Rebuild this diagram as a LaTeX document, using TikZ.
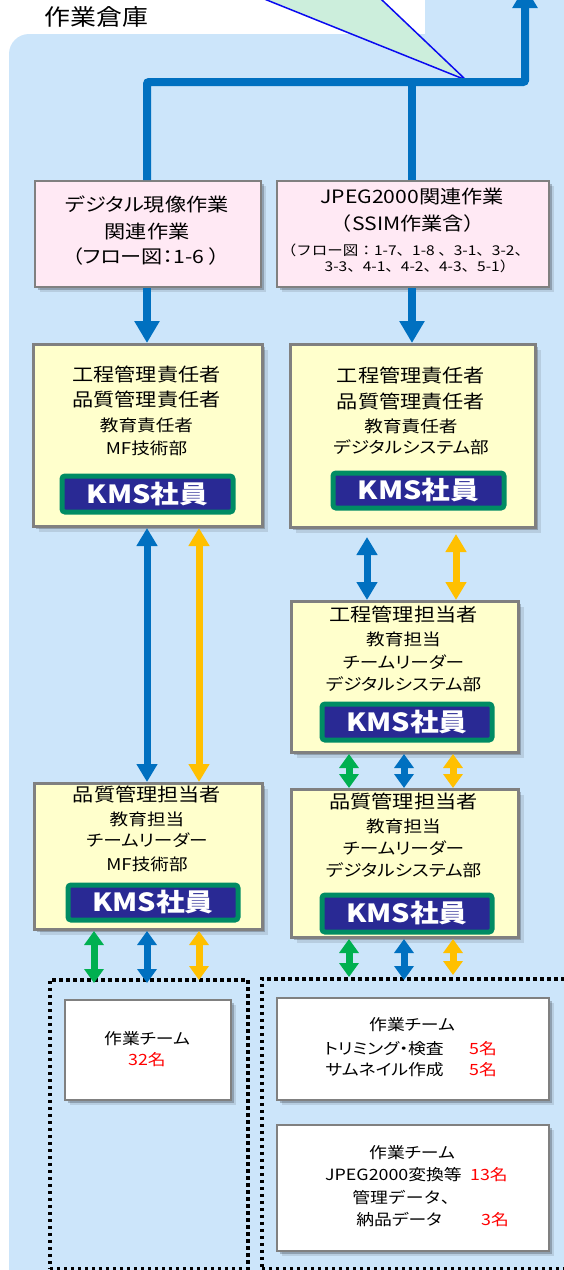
\documentclass[tikz,border=0pt]{standalone}
\usepackage{fontspec}
\setmainfont{Noto Sans CJK JP}[FakeStretch=1.15,RawFeature={+palt}]
\newfontfamily\fwfont{Noto Sans CJK JP}[FakeStretch=1.15]
\usetikzlibrary{arrows.meta,shadows}
\definecolor{bgblue}{RGB}{204,229,250}
\definecolor{mint}{RGB}{204,238,220}
\definecolor{thinblue}{RGB}{10,10,240}
\definecolor{arrblue}{RGB}{0,112,192}
\definecolor{arrorange}{RGB}{255,192,0}
\definecolor{arrgreen}{RGB}{0,176,80}
\definecolor{pinkfill}{RGB}{255,233,244}
\definecolor{yellowfill}{RGB}{255,255,204}
\definecolor{boxgray}{RGB}{128,128,128}
\definecolor{navy}{RGB}{41,41,148}
\definecolor{teal}{RGB}{0,140,100}
\definecolor{numred}{RGB}{255,0,0}
\tikzset{
  shadowed/.style={general shadow={shadow xshift=2.5pt,shadow yshift=-2.5pt,fill=black,opacity=.22},
                   general shadow={shadow xshift=5pt,shadow yshift=-5pt,fill=black,opacity=.10}},
  pinkbox/.style={draw=boxgray,line width=2pt,fill=pinkfill,anchor=north west,inner sep=0pt,shadowed},
  yellowbox/.style={draw=boxgray,line width=3pt,fill=yellowfill,anchor=north west,inner sep=0pt,shadowed},
  whitebox/.style={draw=boxgray,line width=2pt,fill=white,anchor=north west,inner sep=0pt,shadowed},
  badge/.style={draw=teal,line width=5pt,fill=navy,rounded corners=3pt,anchor=north west,inner sep=0pt,
                text=white,font=\bfseries\fontsize{25pt}{26pt}\selectfont},
  dotbox/.style={draw=black,line width=3.5pt,dash pattern=on 3.5pt off 3.5pt,anchor=north west,inner sep=0pt},
  txt/.style={inner sep=0pt,text height=0.8em,text depth=0.2em},
  titletxt/.style={txt,font=\fontsize{22.5pt}{24pt}\selectfont},
  big/.style={txt,font=\fontsize{18.4pt}{20pt}\selectfont},
  small/.style={txt,font=\fontsize{16.2pt}{18pt}\selectfont},
  tinytxt/.style={txt,font=\fwfont\fontsize{13.5pt}{15pt}\selectfont},
  work/.style={txt,font=\fontsize{15.5pt}{17pt}\selectfont},
  worknum/.style={work,text=numred},
  mainline/.style={draw=arrblue,line width=8pt,rounded corners=2pt},
  bigarrow/.style={draw=arrblue,line width=8pt,-{Triangle[width=24pt,length=22pt]}},
  dblarrow/.style={line width=7pt,{Triangle[width=20pt,length=18pt]}-{Triangle[width=20pt,length=18pt]}},
  dblshort/.style={line width=7pt,{Triangle[width=19pt,length=14pt]}-{Triangle[width=19pt,length=14pt]}},
}
\begin{document}
\begin{tikzpicture}[x=1pt,y=-1pt]
\useasboundingbox (0,0) rectangle (564,1270);
\clip (0,0) rectangle (564,1270);
% background
\fill[bgblue,rounded corners=20pt] (9,34) rectangle (640,1330);
\fill[bgblue,rounded corners=3pt] (425,-30) rectangle (640,60);
% callout triangle
\filldraw[fill=mint,draw=thinblue,line width=1.5pt] (217,-20) -- (466,80) -- (361,-20);
% title
\node[titletxt] (title) at (96.5,22) {作業倉庫};
% column coordinates
\coordinate (hl) at (0,82);
\coordinate (up) at (525,-14);
\coordinate (cA) at (147,0);
\coordinate (cB) at (412,0);
\coordinate (cC) at (199,0);
\coordinate (cD) at (367,0);
\coordinate (cE) at (456,0);
\coordinate (cF) at (349,0);
\coordinate (cG) at (404,0);
\coordinate (cH) at (453,0);
\coordinate (cI) at (94,0);
% pink boxes
\node[pinkbox,minimum width=226pt,minimum height=106pt] (p1) at (34,180) {};
\node[pinkbox,minimum width=272pt,minimum height=106pt] (p2) at (276,180) {};
\node[big] (p1a) at (147,208) {デジタル現像作業};
\node[big] (p1b) at (147,235) {関連作業};
\node[big] (p1c) at (146,260) {（フロー図：1-6 ）};
\node[big] (p2a) at (412,200) {JPEG2000関連作業};
\node[big] (p2b) at (408,227) {\fwfont（SSIM作業含）};
\node[tinytxt] (p2c) at (405.5,252) {（フロー図：1-7、1-8 、3-1、3-2、};
\node[tinytxt] (p2d) at (420,268) {3-3、4-1、4-2、4-3、5-1）};
% main blue line
\draw[mainline] (p1.north -| cA) -- (cA |- hl) -- (up |- hl) -- ([yshift=-10pt]up);
\draw[bigarrow] (up |- hl) -- (up);
\draw[mainline] (p2.north -| cB) -- (cB |- hl);
% yellow boxes
\node[yellowbox,minimum width=229pt,minimum height=182pt] (y1) at (32,343) {};
\node[yellowbox,minimum width=245pt,minimum height=183pt] (y2) at (289,343) {};
\node[big] (y1a) at (146.5,378) {工程管理責任者};
\node[big] (y1b) at (146.5,403) {品質管理責任者};
\node[small] (y1c) at (146.5,428) {教育責任者};
\node[small] (y1d) at (146.5,451) {MF技術部};
\node[badge,minimum width=171pt,minimum height=36pt] (b1) at (59.5,473.5) {KMS社員};
\node[big] (y2a) at (411,379) {工程管理責任者};
\node[big] (y2b) at (411,405) {品質管理責任者};
\node[small] (y2c) at (411,429) {教育責任者};
\node[small] (y2d) at (411,450) {デジタルシステム部};
\node[badge,minimum width=171pt,minimum height=35pt] (b2) at (330.5,470.5) {KMS社員};
% pink -> yellow arrows
\draw[bigarrow] (p1.south -| cA) -- (y1.north -| cA);
\draw[bigarrow] (p2.south -| cB) -- (y2.north -| cB);
% right 工程管理担当者
\node[yellowbox,minimum width=227pt,minimum height=151pt] (t2) at (290,600) {};
\node[big] (t2a) at (403.5,618) {工程管理担当者};
\node[small] (t2b) at (403.5,642) {教育担当};
\node[small] (t2c) at (403.5,665) {チームリーダー};
\node[small] (t2d) at (403.5,687) {デジタルシステム部};
\node[badge,minimum width=170pt,minimum height=36pt] (b3) at (319.5,701.5) {KMS社員};
% left 品質管理担当者
\node[yellowbox,minimum width=228pt,minimum height=146pt] (q1) at (33,782) {};
\node[big] (q1a) at (147,798) {品質管理担当者};
\node[small] (q1b) at (147,822) {教育担当};
\node[small] (q1c) at (147,843) {チームリーダー};
\node[small] (q1d) at (147,867) {MF技術部};
\node[badge,minimum width=170pt,minimum height=35pt] (b4) at (65.5,882.5) {KMS社員};
% right 品質管理担当者
\node[yellowbox,minimum width=227pt,minimum height=148pt] (q2) at (290,788) {};
\node[big] (q2a) at (403.5,805) {品質管理担当者};
\node[small] (q2b) at (403.5,829) {教育担当};
\node[small] (q2c) at (403.5,851) {チームリーダー};
\node[small] (q2d) at (403.5,873) {デジタルシステム部};
\node[badge,minimum width=170pt,minimum height=37pt] (b5) at (319.5,892.5) {KMS社員};
% dotted areas
\node[dotbox,minimum width=198pt,minimum height=289pt] (dl) at (48,978) {};
\node[dotbox,minimum width=360pt,minimum height=290pt] (dr) at (260,977) {};
% white work boxes
\node[whitebox,minimum width=166pt,minimum height=100pt] (w1) at (64,999) {};
\node[whitebox,minimum width=272pt,minimum height=102pt] (w2) at (276,997) {};
\node[whitebox,minimum width=272pt,minimum height=126pt] (w3) at (276,1124) {};
\node[work] (w1a) at (147,1041) {作業チーム};
\node[worknum] (w1b) at (147,1062) {32名};
\node[work] (w2a) at (412,1027) {作業チーム};
\node[work,anchor=east] (w2b) at (444,1051) {トリミング・検査};
\node[worknum,anchor=west] (w2c) at (469,1051) {5名};
\node[work,anchor=east] (w2d) at (444,1072) {サムネイル作成};
\node[worknum,anchor=west] (w2e) at (469,1072) {5名};
\node[work] (w3a) at (412,1155) {作業チーム};
\node[work,anchor=east] (w3b) at (462,1177) {JPEG2000変換等};
\node[worknum,anchor=west] (w3c) at (470,1177) {13名};
\node[work] (w3d) at (405.5,1200) {\fwfont 管理データ、};
\node[work,anchor=east] (w3e) at (442,1222) {納品データ};
\node[worknum,anchor=west] (w3f) at (481,1222) {3名};
% double arrows
\draw[dblarrow,draw=arrblue,fill=arrblue] (y1.south -| cA) -- (q1.north -| cA);
\draw[dblarrow,draw=arrorange,fill=arrorange] (y1.south -| cC) -- (q1.north -| cC);
\draw[dblarrow,draw=arrblue,fill=arrblue,shorten <=8pt] (y2.south -| cD) -- (t2.north -| cD);
\draw[dblarrow,draw=arrorange,fill=arrorange,shorten <=5pt] (y2.south -| cE) -- (t2.north -| cE);
\draw[dblshort,draw=arrgreen,fill=arrgreen] (t2.south -| cF) -- (q2.north -| cF);
\draw[dblshort,draw=arrblue,fill=arrblue] (t2.south -| cG) -- (q2.north -| cG);
\draw[dblshort,draw=arrorange,fill=arrorange] (t2.south -| cH) -- (q2.north -| cH);
\draw[dblshort,draw=arrgreen,fill=arrgreen,shorten >=-5pt] (q1.south -| cI) -- (dl.north -| cI);
\draw[dblshort,draw=arrblue,fill=arrblue,shorten >=-5pt] (q1.south -| cA) -- (dl.north -| cA);
\draw[dblshort,draw=arrorange,fill=arrorange,shorten >=-2pt] (q1.south -| cC) -- (dl.north -| cC);
\draw[dblshort,draw=arrgreen,fill=arrgreen] (q2.south -| cF) -- (dr.north -| cF);
\draw[dblshort,draw=arrblue,fill=arrblue,shorten >=-3pt] (q2.south -| cG) -- (dr.north -| cG);
\draw[dblshort,draw=arrorange,fill=arrorange,shorten >=2pt] (q2.south -| cH) -- (dr.north -| cH);
\end{tikzpicture}
\end{document}
